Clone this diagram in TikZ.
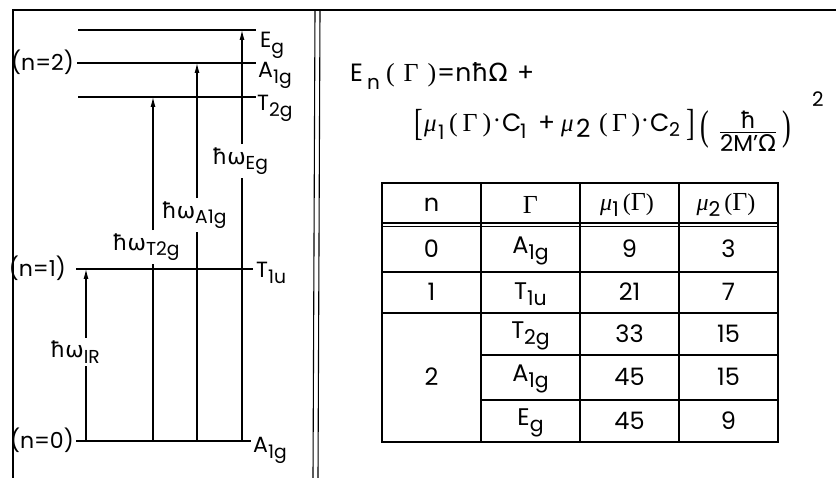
\documentclass[tikz,border=0pt]{standalone}
\usepackage{fontspec}
\setmainfont{Poppins}
\newfontfamily\dv{DejaVu Sans}
\newfontfamily\ser{Liberation Serif}
\usetikzlibrary{arrows.meta}
\newcommand\lsub[1]{\raisebox{-0.45ex}{\scalebox{0.85}{#1}}}
\newcommand\hw{{\dv ħω}}
\newcommand\mui{{\ser\itshape μ}}
\newcommand\bigf{\fontsize{22}{26}\selectfont}
\newcommand\tabf{\fontsize{24}{28}\selectfont}
\newcommand\fmf{\fontsize{25}{29}\selectfont}
\newcommand\subf{\fontsize{20}{23}\selectfont}
\newcommand\frf{\fontsize{23}{26}\selectfont}
\newcommand\gam{{\fontsize{26}{30}\selectfont\ser Γ}}
\tikzset{
  frame/.style={line width=1.1pt},
  lvl/.style={line width=2.4pt},
  seg/.style={line width=1.1pt},
  arr/.style={line width=1.1pt,-{Latex[length=10pt,width=5pt]}},
  lab/.style={font=\bigf,inner sep=0pt},
  alab/.style={font=\bigf,inner sep=3pt},
  tab/.style={line width=1.2pt},
  cell/.style={font=\tabf,inner sep=0pt},
  fm/.style={font=\fmf,inner sep=0pt,anchor=base west},
  fs/.style={font=\subf,inner sep=0pt,anchor=base west},
  brk/.style={font=\fontsize{26}{30}\selectfont\ser,inner sep=0pt,anchor=base west},
}
\begin{document}
\begin{tikzpicture}[x=1pt,y=-1pt]
\useasboundingbox (0,0) rectangle (836,478);
% frames
\draw[frame] (13,478) -- (13,10) -- (836,10);
\draw[frame] (315,10) -- (313,478);
\draw[frame] (320,10) -- (318,478);
% level coordinates
\coordinate (eg-l) at (78,30);  \coordinate (eg-r) at (256,30);
\coordinate (a2-l) at (77,63);  \coordinate (a2-r) at (256,63);
\coordinate (t2-l) at (78,97);  \coordinate (t2-r) at (256,97);
\coordinate (t1-l) at (76,269); \coordinate (t1-r) at (253,269);
\coordinate (a0-l) at (76,441); \coordinate (a0-r) at (251,441);
% arrow coordinates
\coordinate (irB) at (86,441);  \coordinate (irT) at (86,269);
\coordinate (tgB) at (153,441); \coordinate (tgT) at (153,97);
\coordinate (agB) at (197,441); \coordinate (agT) at (197,63);
\coordinate (egB) at (242,441); \coordinate (egT) at (242,30);
% arrow labels
\node[alab] (lir) at (75,352) {\hw\lsub{IR}};
\node[alab] (ltg) at (146,247) {\hw\lsub{T2g}};
\node[alab] (lag) at (194,215) {\hw\lsub{A1g}};
\node[alab] (leg) at (240,161) {\hw\lsub{Eg}};
% arrows
\draw[seg] (irB) -- (irB |- lir.south);
\draw[arr] (irB |- lir.north) -- (irT);
\draw[seg] (tgB) -- (tgB |- ltg.south);
\draw[arr] (tgB |- ltg.north) -- (tgT);
\draw[seg] (agB) -- (agB |- lag.south);
\draw[arr] (agB |- lag.north) -- (agT);
\draw[seg] (egB) -- (egB |- leg.south);
\draw[arr] (egB |- leg.north) -- (egT);
% levels
\draw[lvl] (eg-l) -- (eg-r);
\draw[lvl] (a2-l) -- (a2-r);
\draw[lvl] (t2-l) -- (t2-r);
\draw[lvl] (t1-l) -- (t1-r);
\draw[lvl] (a0-l) -- (a0-r);
% level labels
\node[lab,anchor=base west] (neg) at (260,48) {E\lsub{g}};
\node[lab,anchor=base west] (na2) at (258,78) {A\lsub{1g}};
\node[lab,anchor=base west] (nt2) at (257,111) {T\lsub{2g}};
\node[lab,anchor=base west] (nt1) at (256,278) {T\lsub{1u}};
\node[lab,anchor=base west] (na0) at (253,453) {A\lsub{1g}};
\node[lab,anchor=base east] (n2) at (74,71) {(n=2)};
\node[lab,anchor=base east] (n1) at (66,277) {(n=1)};
\node[lab,anchor=base east] (n0) at (74,449) {(n=0)};
% formula line 1
\node[fm] (p1) at (350,82) {E};
\node[fs] (p1s) at (367,90) {n};
\node[fm] (p2) at (386,82) {\makebox[50pt]{\fontsize{26}{30}\selectfont\ser(\hfill Γ\hfill)}};
\node[fm] (p3) at (437,82) {=n{\dv ħΩ}};
\node[fm] (p4) at (517,82) {+};
% formula line 2
\node[brk] (q0) at (414,136) {\scalebox{1}[1.45]{[}};
\node[fm] (q1) at (424,132) {\mui};
\node[fs] (q1s) at (438,140) {1};
\node[fm] (q2) at (449,132) {\makebox[42pt]{\fontsize{26}{30}\selectfont\ser(\hfill Γ\hfill)}};
\node[cell] (q3) at (497,124) {·};
\node[fm] (q4) at (502,132) {C};
\node[fs] (q4s) at (520,139) {1};
\node[fm] (q5) at (538,132) {+};
\node[fm] (q6) at (561,132) {\mui};
\node[fm] (q6s) at (576,138) {2};
\node[fm] (q7) at (599,132) {\makebox[41pt]{\fontsize{26}{30}\selectfont\ser(\hfill Γ\hfill)}};
\node[cell] (q8) at (645,124) {·};
\node[fm] (q9) at (650,132) {C};
\node[fs,font=\fontsize{19}{22}\selectfont] (q9s) at (669,137) {2};
\node[brk] (q10) at (686,136) {\scalebox{1}[1.45]{]}};
\node[brk] (q11) at (700,140) {\scalebox{1}[1.6]{(}};
\node[font=\frf,inner sep=0pt,anchor=base] (qn) at (748,129) {\dv ħ};
\node[font=\frf,inner sep=0pt,anchor=base] (qd) at (748,152) {2M'{\dv Ω}};
\draw[line width=1pt] (qd.west |- 0,133) -- (qd.east |- 0,133);
\node[brk] (q12) at (782,140) {\scalebox{1}[1.6]{)}};
\node[fs] (q13) at (812,107) {2};
% table
\draw[tab] (382,183) rectangle (778,442);
\draw[tab] (481,183) -- (481,442);
\draw[tab] (580,183) -- (580,442);
\draw[tab] (679,183) -- (679,442);
\draw[tab] (382,223) -- (778,223);
\draw[tab] (382,226.5) -- (778,226.5);
\draw[tab] (382,272) -- (778,272);
\draw[tab] (382,313) -- (778,313);
\draw[tab] (481,355) -- (778,355);
\draw[tab] (481,400) -- (778,400);
% header
\node[cell] (h1) at (431.5,205) {n};
\node[cell] (h2) at (530.5,205) {\gam};
\node[cell] (h3) at (627,205) {\mui\lsub{1}\,{\ser(}\gam{\ser)}};
\node[cell] (h4) at (726,205) {\mui\lsub{2}\,{\ser(}\gam{\ser)}};
% rows
\node[cell] (r1a) at (431.5,249) {0};
\node[cell] (r1b) at (530.5,251) {A\lsub{1g}};
\node[cell] (r1c) at (629.5,249) {9};
\node[cell] (r1d) at (728.5,249) {3};
\node[cell] (r2a) at (431.5,292) {1};
\node[cell] (r2b) at (530.5,294) {T\lsub{1u}};
\node[cell] (r2c) at (629.5,292) {21};
\node[cell] (r2d) at (728.5,292) {7};
\node[cell] (r3a) at (431.5,377) {2};
\node[cell] (r3b) at (530.5,336) {T\lsub{2g}};
\node[cell] (r3c) at (629.5,334) {33};
\node[cell] (r3d) at (728.5,334) {15};
\node[cell] (r4b) at (530.5,379) {A\lsub{1g}};
\node[cell] (r4c) at (629.5,377) {45};
\node[cell] (r4d) at (728.5,377) {15};
\node[cell] (r5b) at (530.5,423) {E\lsub{g}};
\node[cell] (r5c) at (629.5,421) {45};
\node[cell] (r5d) at (728.5,421) {9};
\end{tikzpicture}
\end{document}
